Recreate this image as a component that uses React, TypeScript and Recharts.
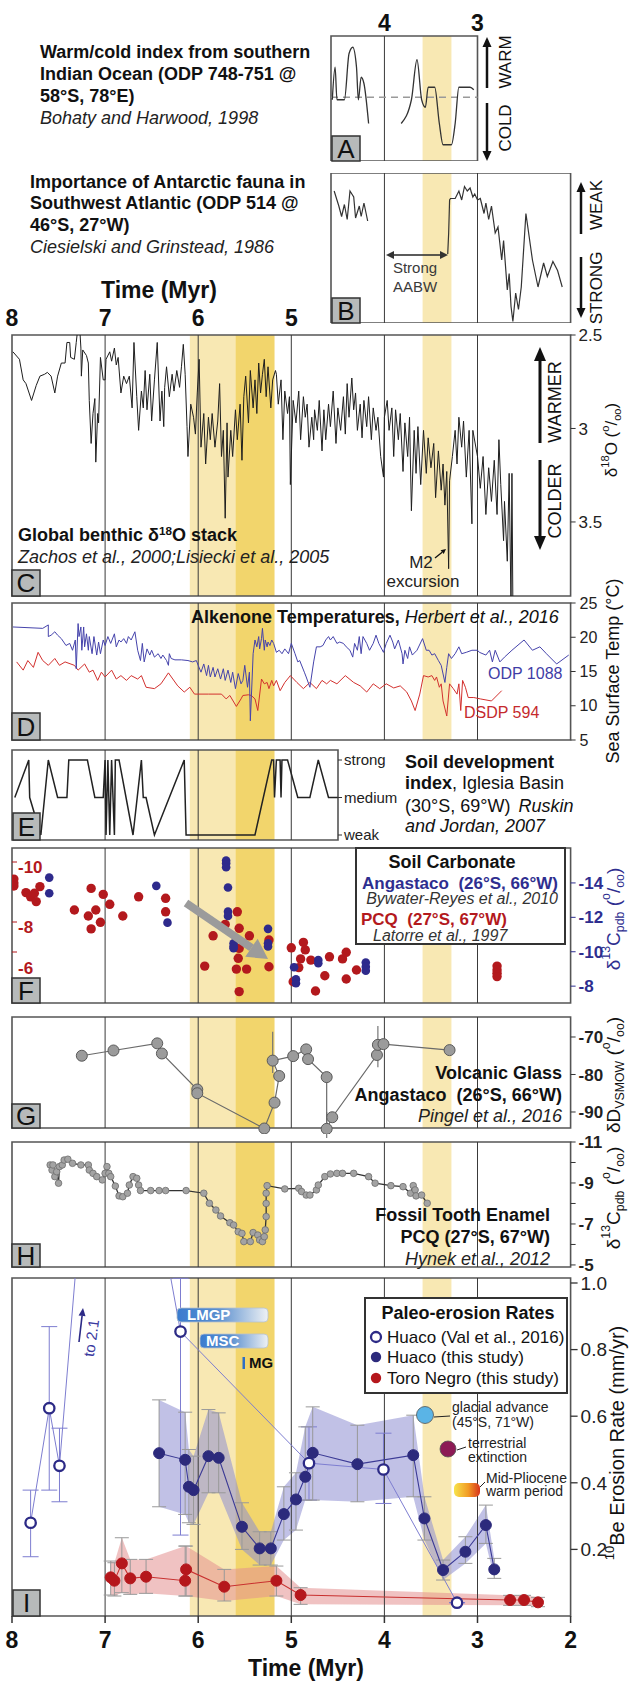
import React from "react";
import {
    ComposedChart,
    Line,
    Scatter,
    Area,
    XAxis,
    YAxis,
    ReferenceArea,
    ReferenceLine,
    ErrorBar,
} from "recharts";

const FONT = "'Liberation Sans', Arial, Helvetica, sans-serif";
const LIGHT = "#f8e8b3";
const DARK = "#f2d56c";
const GRID = "#3a3a3a";
const FRAME = "#555";

// shaded intervals (Myr) and grid times
const bandLight: [number, number][] = [[6.09, 5.6], [3.59, 3.28]];
const bandDark: [number, number][] = [[5.6, 5.18]];
const gridTimes = [7, 6, 5, 4, 3];
const timeTicks = [8, 7, 6, 5, 4, 3, 2];

type P = [number, number | null];
const pts = (a: P[]) => a.map(([t, v]) => ({ t, v }));

// A: warm/cold index, ODP 748-751
const warmIndex: P[] = [
    [4.56, 4.9], [4.53, 7.5], [4.51, 4.9], [4.43, 4.9], [4.38, 8.6], [4.34, 9.1], [4.3, 7.5], [4.28, 4.9],
    [4.25, 6.7], [4.22, 6.2], [4.17, 3.0], [4.0, null], [3.82, 3.0], [3.71, 4.9], [3.65, 8.1], [3.6, 4.9],
    [3.56, 4.3], [3.53, 5.9], [3.46, 5.9], [3.41, 3.0], [3.37, 1.3], [3.28, 1.3], [3.24, 3.0], [3.2, 5.9],
    [3.08, 5.9], [3.04, 5.7],
];

// B: Antarctic fauna, ODP 514
const faunaIndex: P[] = [
    [4.54, 8.8], [4.51, 8.2], [4.49, 7.8], [4.46, 7.1], [4.43, 7.9], [4.4, 6.9], [4.37, 8.8], [4.33, 8.4],
    [4.31, 7.0], [4.27, 7.8], [4.25, 7.1], [4.22, 8.0], [4.18, 6.8], [3.9, null], [3.32, 4.6], [3.31, 6.0],
    [3.3, 8.2], [3.29, 8.3], [3.24, 8.3], [3.2, 8.8], [3.17, 8.2], [3.14, 9.1], [3.11, 8.8], [3.08, 9.0],
    [3.05, 8.4], [3.03, 8.6], [3.0, 8.2], [2.97, 8.3], [2.93, 7.3], [2.91, 8.0], [2.88, 6.9], [2.85, 7.8],
    [2.81, 6.0], [2.78, 6.4], [2.74, 4.2], [2.72, 5.5], [2.68, 2.2], [2.66, 3.3], [2.64, 1.1], [2.62, 0.1],
    [2.59, 2.0], [2.56, 0.9], [2.53, 2.4], [2.48, 7.3], [2.41, 4.2], [2.35, 2.4], [2.29, 4.0], [2.25, 3.1],
    [2.19, 4.1], [2.14, 3.5], [2.09, 2.4],
];

// C: benthic d18O stack
const benthic: P[] = [
    [7.99, 2.59], [7.92, 2.63], [7.88, 2.74], [7.85, 2.76], [7.79, 2.85], [7.74, 2.77], [7.7, 2.72], [7.65, 2.71],
    [7.62, 2.7], [7.58, 2.72], [7.54, 2.81], [7.51, 2.72], [7.47, 2.65], [7.43, 2.65], [7.41, 2.54], [7.38, 2.54],
    [7.37, 2.62], [7.33, 2.63], [7.31, 2.54], [7.29, 2.45], [7.28, 2.4], [7.26, 2.57], [7.255, 2.72], [7.24, 2.58],
    [7.2, 2.61], [7.18, 2.65], [7.17, 2.85], [7.15, 3.08], [7.13, 2.92], [7.11, 2.84], [7.1, 3.18], [7.08, 2.92],
    [7.07, 2.97], [7.05, 2.62], [7.02, 2.74], [7.0, 2.74], [6.99, 2.63], [6.95, 2.59], [6.93, 2.64], [6.9, 2.57],
    [6.88, 2.66], [6.86, 2.62], [6.83, 2.81], [6.8, 2.72], [6.77, 2.76], [6.74, 2.72], [6.71, 2.89], [6.69, 2.54],
    [6.66, 2.83], [6.64, 3.01], [6.61, 2.8], [6.59, 2.89], [6.57, 2.69], [6.55, 2.9], [6.52, 2.71], [6.5, 2.96],
    [6.47, 2.74], [6.44, 2.54], [6.41, 2.96], [6.39, 2.8], [6.37, 2.99], [6.36, 2.78], [6.34, 2.67], [6.31, 2.83],
    [6.28, 2.71], [6.26, 2.8], [6.23, 2.69], [6.2, 2.78], [6.18, 2.67], [6.16, 2.55], [6.14, 2.71], [6.12, 2.99],
    [6.11, 3.15], [6.08, 2.87], [6.05, 2.94], [6.03, 3.03], [6.01, 2.81], [5.99, 2.63], [5.97, 3.1], [5.94, 2.92],
    [5.92, 3.19], [5.89, 2.94], [5.87, 3.06], [5.85, 2.92], [5.82, 3.1], [5.79, 2.96], [5.77, 2.76], [5.75, 3.15],
    [5.73, 3.01], [5.71, 3.48], [5.69, 2.97], [5.68, 3.26], [5.65, 3.01], [5.63, 3.15], [5.6, 2.9], [5.58, 3.06],
    [5.55, 2.87], [5.53, 3.17], [5.51, 2.83], [5.49, 2.72], [5.46, 2.97], [5.44, 2.69], [5.41, 2.89], [5.39, 2.74],
    [5.37, 2.92], [5.35, 2.65], [5.33, 2.81], [5.31, 2.71], [5.29, 2.63], [5.27, 2.83], [5.25, 2.67], [5.22, 2.89],
    [5.2, 2.74], [5.17, 2.69], [5.16, 2.71], [5.14, 2.87], [5.11, 2.74], [5.09, 3.06], [5.07, 2.8], [5.04, 2.92],
    [5.02, 2.83], [5.01, 3.3], [4.98, 2.85], [4.95, 2.97], [4.92, 2.8], [4.9, 3.06], [4.87, 2.83], [4.85, 2.94],
    [4.83, 2.87], [4.81, 3.1], [4.78, 2.94], [4.76, 3.06], [4.75, 2.9], [4.72, 3.01], [4.7, 2.85], [4.67, 3.12],
    [4.65, 2.9], [4.63, 3.06], [4.6, 2.87], [4.58, 2.99], [4.55, 2.8], [4.52, 3.08], [4.5, 2.89], [4.47, 3.01],
    [4.44, 2.83], [4.42, 3.03], [4.4, 2.76], [4.38, 2.94], [4.35, 2.73], [4.33, 2.9], [4.31, 2.81], [4.29, 3.01],
    [4.26, 2.87], [4.24, 3.05], [4.22, 2.85], [4.19, 2.99], [4.17, 2.83], [4.14, 3.06], [4.12, 2.89], [4.09, 3.01],
    [4.07, 2.94], [4.04, 3.15], [4.01, 3.26], [4.0, 2.94], [3.97, 2.85], [3.95, 3.01], [3.92, 2.89], [3.9, 3.15],
    [3.88, 2.9], [3.85, 3.06], [3.83, 2.92], [3.8, 3.23], [3.78, 2.97], [3.75, 3.15], [3.73, 2.94], [3.71, 3.44],
    [3.68, 3.01], [3.66, 3.24], [3.64, 2.99], [3.61, 3.3], [3.58, 3.01], [3.55, 3.24], [3.53, 3.05], [3.5, 3.21],
    [3.47, 3.08], [3.45, 3.37], [3.42, 3.12], [3.39, 3.33], [3.37, 3.19], [3.35, 3.41], [3.33, 3.23], [3.31, 3.75],
    [3.3, 3.28], [3.27, 3.15], [3.24, 3.01], [3.22, 3.19], [3.2, 2.94], [3.17, 3.1], [3.15, 2.96], [3.12, 3.26],
    [3.09, 3.01], [3.06, 3.51], [3.05, 3.01], [3.0, 3.15], [2.97, 3.32], [2.94, 3.15], [2.91, 3.46], [2.88, 3.21],
    [2.85, 3.39], [2.82, 3.17], [2.79, 3.46], [2.77, 3.06], [2.75, 3.3], [2.72, 3.6], [2.71, 3.39], [2.68, 3.71],
    [2.66, 3.24], [2.64, 3.95], [2.63, 3.24], [2.62, 3.95],
];

// D: alkenone SST
const odp1088: P[] = [
    [7.99, 21.5], [7.67, 21.3], [7.61, 21.8], [7.61, 20.1], [7.58, 20.3], [7.54, 20.8], [7.51, 20.3], [7.47, 19.8],
    [7.42, 18.8], [7.38, 19.1], [7.35, 18.1], [7.32, 19.6], [7.31, 15.4], [7.29, 22.0], [7.28, 20.1], [7.26, 21.5],
    [7.25, 18.1], [7.23, 21.5], [7.22, 18.6], [7.2, 20.5], [7.18, 18.1], [7.17, 20.1], [7.14, 17.6], [7.12, 20.1],
    [7.09, 17.4], [7.07, 19.3], [7.05, 17.6], [7.02, 19.6], [7.0, 18.8], [6.97, 20.1], [6.94, 19.1], [6.9, 20.5],
    [6.88, 18.6], [6.85, 19.6], [6.83, 19.3], [6.8, 19.8], [6.77, 19.1], [6.75, 20.1], [6.72, 19.6], [6.68, 20.8],
    [6.65, 18.1], [6.62, 16.6], [6.6, 19.1], [6.58, 16.4], [6.55, 18.3], [6.52, 17.4], [6.5, 18.1], [6.47, 17.1],
    [6.43, 17.6], [6.4, 16.9], [6.38, 17.4], [6.34, 16.6], [6.32, 15.9], [6.31, 17.6], [6.29, 16.9], [6.25, 16.7],
    [6.18, 16.7], [6.11, 16.6], [6.06, 16.4], [6.02, 16.6], [6.0, 15.9], [5.97, 14.9], [5.94, 16.1], [5.91, 14.4],
    [5.89, 15.9], [5.87, 14.2], [5.84, 15.6], [5.82, 14.2], [5.79, 15.4], [5.76, 13.9], [5.73, 15.4], [5.71, 13.7],
    [5.68, 15.2], [5.65, 13.4], [5.63, 14.9], [5.6, 12.5], [5.57, 14.7], [5.54, 13.2], [5.52, 13.7], [5.5, 15.9],
    [5.47, 12.7], [5.45, 14.9], [5.44, 7.8], [5.42, 14.2], [5.41, 17.6], [5.39, 19.6], [5.37, 18.6], [5.35, 20.1],
    [5.34, 18.3], [5.32, 19.8], [5.31, 21.3], [5.29, 18.1], [5.28, 19.6], [5.26, 18.6], [5.25, 19.3], [5.23, 18.8],
    [5.21, 19.6], [5.19, 19.1], [5.16, 17.8], [5.13, 18.1], [5.1, 17.6], [5.07, 18.3], [5.03, 17.6], [5.0, 19.1],
    [4.96, 17.6], [4.93, 16.4], [4.91, 16.6], [4.86, 14.9], [4.84, 14.2], [4.8, 12.7], [4.76, 16.4], [4.73, 18.6],
    [4.69, 18.6], [4.66, 18.8], [4.63, 19.6], [4.6, 20.1], [4.58, 19.6], [4.55, 20.1], [4.51, 19.1], [4.48, 19.3],
    [4.44, 19.1], [4.41, 18.6], [4.37, 18.1], [4.34, 17.1], [4.32, 19.1], [4.29, 18.1], [4.27, 20.1], [4.25, 17.6],
    [4.23, 20.1], [4.19, 19.1], [4.16, 18.1], [4.12, 19.1], [4.09, 20.3], [4.06, 19.1], [4.01, 17.8], [3.98, 19.1],
    [3.94, 20.3], [3.91, 19.3], [3.89, 18.3], [3.85, 19.6], [3.81, 17.6], [3.8, 16.1], [3.78, 18.1], [3.75, 16.9],
    [3.73, 18.6], [3.7, 17.4], [3.65, 18.1], [3.59, 19.8], [3.55, 18.1], [3.52, 18.1], [3.49, 17.4], [3.46, 17.6],
    [3.42, 16.6], [3.39, 15.9], [3.35, 13.4], [3.33, 15.6], [3.31, 17.6], [3.28, 16.9], [3.24, 17.6], [3.2, 18.6],
    [3.17, 17.6], [3.12, 17.8], [3.06, 18.1], [3.0, 18.1], [2.98, 17.8], [2.91, 17.4], [2.87, 18.1], [2.84, 16.4],
    [2.81, 18.1], [2.76, 16.4], [2.71, 17.1], [2.63, 18.1], [2.5, 19.6], [2.41, 18.1], [2.33, 18.6], [2.26, 17.6],
    [2.15, 16.1], [2.02, 17.4],
];
const dsdp594: P[] = [
    [7.95, 16.4], [7.88, 15.2], [7.83, 16.6], [7.77, 15.6], [7.72, 17.8], [7.67, 16.6], [7.61, 15.9], [7.54, 16.9],
    [7.49, 15.9], [7.43, 16.4], [7.33, 15.9], [7.29, 15.2], [7.22, 16.1], [7.17, 14.9], [7.13, 15.2], [7.08, 13.7],
    [7.04, 14.9], [7.0, 14.2], [6.93, 15.2], [6.88, 13.9], [6.83, 14.4], [6.77, 13.7], [6.72, 14.4], [6.65, 13.9],
    [6.61, 14.4], [6.56, 12.7], [6.47, 12.5], [6.4, 13.2], [6.32, 14.8], [6.22, 12.9], [6.15, 12.0], [6.09, 12.7],
    [6.04, 11.7], [5.89, 11.7], [5.75, 11.7], [5.7, 11.0], [5.66, 11.5], [5.59, 9.9], [5.54, 11.0], [5.52, 11.5],
    [5.46, 11.6], [5.43, 11.5], [5.39, 11.0], [5.36, 9.3], [5.32, 13.9], [5.29, 13.2], [5.26, 13.4], [5.24, 12.5],
    [5.21, 13.7], [5.19, 12.9], [5.16, 13.7], [5.12, 12.2], [5.07, 13.4], [5.01, 14.4], [4.94, 13.4], [4.87, 12.5],
    [4.8, 13.4], [4.73, 12.5], [4.67, 13.7], [4.62, 13.2], [4.58, 13.7], [4.51, 13.2], [4.42, 14.4], [4.33, 13.4],
    [4.26, 12.9], [4.19, 12.0], [4.12, 13.2], [4.05, 12.5], [3.98, 13.2], [3.9, 12.6], [3.83, 12.9], [3.76, 12.0],
    [3.71, 10.7], [3.67, 9.3], [3.62, 11.7], [3.58, 14.4], [3.53, 14.2], [3.49, 14.4], [3.46, 13.7], [3.44, 14.2],
    [3.41, 12.7], [3.39, 13.2], [3.37, 10.7], [3.33, 8.5], [3.3, 13.2], [3.26, 12.5], [3.22, 11.7], [3.2, 13.2],
    [3.18, 9.3], [3.16, 13.7], [3.13, 12.7], [3.1, 11.2], [3.04, 11.2], [2.97, 11.0], [2.85, 10.7], [2.74, 12.2],
];

// E: soil development index (0 weak, 1 medium, 2 strong)
const soilDev: P[] = [
    [7.97, 1], [7.82, 2], [7.81, 1], [7.69, 0], [7.61, 2], [7.51, 1], [7.41, 1], [7.39, 2], [7.19, 2], [7.11, 1],
    [7.02, 1], [7.0, 2], [6.99, 0], [6.97, 2], [6.95, 0], [6.93, 2], [6.9, 0], [6.89, 2], [6.85, 2], [6.7, 0],
    [6.61, 2], [6.59, 1], [6.56, 1], [6.47, 0], [6.15, 2], [6.13, 0], [5.39, 0], [5.21, 2], [5.19, 2], [5.18, 1],
    [5.16, 2], [5.12, 2], [5.11, 1], [5.1, 2], [5.04, 2], [4.93, 1], [4.8, 1], [4.71, 2], [4.6, 1], [4.5, 1],
];

// F: soil carbonate d13C
const pcqCarb: P[] = [
    [7.98, -9.43], [7.98, -9.3], [7.98, -9.2], [7.85, -8.98], [7.8, -8.84], [7.76, -8.96], [7.74, -8.68], [7.7, -9.18],
    [7.33, -8.4], [7.18, -8.2], [7.15, -9.12], [7.15, -7.77], [7.1, -8.4], [7.05, -7.99], [7.02, -8.92], [6.95, -8.59],
    [6.81, -8.2], [6.64, -8.84], [6.35, -8.79], [6.35, -8.34], [5.93, -6.53], [5.84, -7.54], [5.71, -7.92], [5.58, -8.34],
    [5.56, -7.79], [5.56, -7.12], [5.57, -6.79], [5.59, -6.43], [5.56, -5.68], [5.48, -6.43], [5.45, -7.54], [5.24, -7.4],
    [5.24, -6.51], [5.0, -7.14], [4.98, -6.01], [4.92, -6.48], [4.9, -6.77], [4.87, -7.32], [4.85, -7.07], [4.79, -6.73],
    [4.74, -5.7], [4.64, -6.21], [4.59, -6.84], [4.45, -6.77], [4.41, -6.99], [4.41, -6.1], [4.3, -6.4], [2.79, -6.53],
    [2.79, -6.4], [2.79, -6.29], [2.79, -6.18],
];
const angastacoCarb: P[] = [
    [7.6, -14.31], [7.6, -13.4], [6.45, -13.83], [6.33, -11.69], [5.7, -15.3], [5.7, -15.15], [5.7, -14.91],
    [5.68, -13.73], [5.68, -12.33], [5.68, -12.08], [5.62, -10.49], [5.62, -10.3], [5.62, -10.2], [5.25, -11.33],
    [5.25, -10.49], [5.25, -10.3], [4.97, -9.1], [4.95, -8.4], [4.95, -8.17], [4.71, -9.52], [4.71, -9.33],
    [4.2, -9.37], [4.2, -9.13], [4.2, -8.9],
];

// G: volcanic glass dD  [t, v, errLow, errHigh]
const glassRows = [
    [7.25, -75.0, 0, 0], [6.91, -73.6, 0, 0], [6.44, -71.7, 0, 0], [6.39, -74.4, 0, 0], [6.01, -84.0, 0, 0],
    [6.01, -85.0, 0, 0], [5.29, -94.4, 0, 0], [5.18, -87.5, 0, 0], [5.13, -80.4, 0, 0], [5.2, -76.3, 3.3, 7.7],
    [4.98, -75.1, 0, 0], [4.84, -73.3, 0, 0], [4.82, -75.9, 0, 0], [4.62, -80.7, 0, 0], [4.62, -94.5, 5, 4.5],
    [4.56, -91.4, 0, 0], [4.08, -74.8, 0, 0], [4.07, -72.1, 6, 5], [4.01, -71.9, 0, 0], [3.3, -73.5, 0, 0],
];

// H: tooth enamel d13C
const enamel: P[] = [
    [7.59, -9.88], [7.57, -9.63], [7.56, -9.88], [7.54, -9.31], [7.52, -9.55], [7.5, -8.99], [7.49, -9.8], [7.46, -9.88],
    [7.44, -10.12], [7.4, -10.16], [7.35, -9.96], [7.26, -9.88], [7.18, -9.88], [7.17, -9.63], [7.13, -9.47], [7.09, -9.31],
    [7.03, -9.15], [7.0, -9.47], [6.98, -9.8], [6.96, -9.47], [6.94, -9.31], [6.89, -8.85], [6.85, -8.37], [6.81, -8.33],
    [6.76, -8.5], [6.74, -8.9], [6.7, -9.31], [6.66, -9.23], [6.64, -8.9], [6.62, -8.63], [6.51, -8.63], [6.42, -8.63],
    [6.35, -8.63], [6.13, -8.63], [5.94, -8.5], [5.88, -8.01], [5.81, -7.68], [5.76, -7.39], [5.66, -7.06], [5.62, -6.95],
    [5.57, -6.62], [5.53, -6.54], [5.51, -6.14], [5.44, -6.14], [5.41, -6.58], [5.36, -6.46], [5.34, -6.22], [5.31, -6.14],
    [5.29, -6.38], [5.28, -6.71], [5.27, -7.36], [5.27, -8.0], [5.27, -8.5], [5.26, -8.87], [5.07, -8.71], [4.92, -8.74],
    [4.89, -8.58], [4.84, -8.41], [4.8, -8.41], [4.73, -8.66], [4.71, -8.9], [4.64, -9.31], [4.58, -9.44], [4.51, -9.47],
    [4.45, -9.47], [4.33, -9.47], [4.17, -9.31], [4.1, -8.99], [3.93, -8.87], [3.8, -8.82], [3.72, -8.5], [3.69, -8.87],
    [3.67, -8.66], [3.66, -8.37], [3.6, -8.41], [3.54, -8.01],
];

// I: 10Be erosion rates
const valRows = [
    [7.8, 0.28, 0.102, 0.098], [7.6, 0.624, 0.246, 0.245], [7.49, 0.451, 0.108, 0.113], [7.0, 2.1, 0, 0],
    [6.19, 0.854, 0.611, 0.16], [4.81, 0.459, 0.111, 0.109], [4.01, 0.44, 0.102, 0.109], [3.22, 0.04, 0, 0],
];
const huacoRows = [
    [6.42, 0.489, 0.328, 0.649], [6.14, 0.469, 0.305, 0.612], [6.1, 0.388, 0.28, 0.5], [6.05, 0.378, 0.275, 0.48],
    [5.89, 0.48, 0.37, 0.62], [5.78, 0.475, 0.37, 0.61], [5.53, 0.268, 0.2, 0.34], [5.34, 0.203, 0.153, 0.253],
    [5.22, 0.203, 0.153, 0.253], [5.08, 0.306, 0.228, 0.388], [4.95, 0.35, 0.258, 0.43], [4.85, 0.418, 0.348, 0.568],
    [4.77, 0.49, 0.348, 0.628], [4.29, 0.456, 0.343, 0.573], [3.69, 0.483, 0.358, 0.603], [3.57, 0.293, 0.228, 0.358],
    [3.37, 0.138, 0.108, 0.168], [3.13, 0.193, 0.158, 0.238], [2.91, 0.273, 0.218, 0.333], [2.82, 0.14, 0.113, 0.173],
];
const toroRows = [
    [6.94, 0.116, 0.063, 0.165], [6.9, 0.106, 0.06, 0.16], [6.82, 0.158, 0.07, 0.235], [6.73, 0.113, 0.065, 0.17],
    [6.56, 0.118, 0.068, 0.17], [6.14, 0.106, 0.06, 0.21], [6.13, 0.14, 0.06, 0.21], [5.72, 0.088, 0.045, 0.14],
    [5.16, 0.106, 0.06, 0.15], [4.9, 0.063, 0.035, 0.085], [2.65, 0.048, 0.032, 0.062], [2.5, 0.048, 0.032, 0.062],
    [2.35, 0.041, 0.028, 0.056],
];
// magnetic polarity chrons (normal, black)
const chrons: [number, number][] = [
    [7.99, 7.67], [7.62, 7.51], [7.47, 7.44], [7.28, 7.23], [7.18, 7.12], [6.7, 6.46], [6.23, 6.01], [5.23, 5.02],
    [4.9, 4.8], [4.63, 4.51], [4.32, 4.2], [3.6, 3.32], [3.19, 3.11], [3.05, 2.62], [2.15, 2.14],
];

const glass = glassRows.map(([t, v, a, b]) => ({ t, v, err: [a, b] }));
const val = valRows.map(([t, v, a, b]) => ({ t, v, err: [a, b] }));
const huaco = huacoRows.map(([t, v, lo, hi]) => ({ t, v, range: [lo, hi], err: [v - lo, hi - v] }));
const toro = toroRows.map(([t, v, lo, hi]) => ({ t, v, range: [lo, hi], err: [v - lo, hi - v] }));

const RW = 62.4; // right axis width, frame right edge at 570.6
const PAD = 10; // room above/below a frame for edge tick labels

function decor(lo: number, hi: number) {
    const inR = (a: number) => a >= lo - 1e-6 && a <= hi + 1e-6;
    const out: any[] = [];
    bandLight.forEach(([a, b], i) => {
        if (inR(a) && inR(b)) out.push(<ReferenceArea key={"l" + i} x1={a} x2={b} fill={LIGHT} fillOpacity={1} stroke="none" />);
    });
    bandDark.forEach(([a, b], i) => {
        if (inR(a) && inR(b)) out.push(<ReferenceArea key={"d" + i} x1={a} x2={b} fill={DARK} fillOpacity={1} stroke="none" />);
    });
    gridTimes.forEach((g) => {
        if (g > lo + 0.01 && g < hi - 0.01) out.push(<ReferenceLine key={"g" + g} x={g} stroke={GRID} strokeWidth={1} />);
    });
    out.push(<ReferenceArea key="frame" x1={lo} x2={hi} fill="none" stroke={FRAME} strokeWidth={1.6} />);
    return out;
}

const tk = (size: number, bold = false, fill = "#222") => ({ fontSize: size, fontWeight: bold ? 700 : 400, fill, fontFamily: FONT });
const hiddenX = (lo: number, hi: number) => (
    <XAxis type="number" dataKey="t" domain={[lo, hi]} reversed allowDataOverflow hide />
);

const Box = ({ top, children }: any) => <div style={{ position: "absolute", left: 0, top }}>{children}</div>;

// left (red) axis of panel F: labels nudged like the original
const PcqTick = (p: any) => {
    const v = p.payload.value;
    if (v === -7) return <g />;
    const dy = v === -6 ? -14 : 5;
    return (
        <text x={p.x} y={p.y + dy} dy="0.355em" textAnchor="start" fontSize={17} fontWeight={700} fill="#b3191d" fontFamily={FONT}>
            {v}
        </text>
    );
};

const Sup = ({ children }: any) => <tspan baselineShift="super" fontSize="65%">{children}</tspan>;
const Sub = ({ children }: any) => <tspan baselineShift="sub" fontSize="65%">{children}</tspan>;
const PerMil = () => (<>(<Sup>o</Sup>/<Sub>oo</Sub>)</>);

const T = ({ x, y, s = 18, b = false, i = false, a = "start", fill = "#111", children }: any) => (
    <text x={x} y={y} fontSize={s} fontWeight={b ? 700 : 400} fontStyle={i ? "italic" : "normal"} textAnchor={a} fill={fill} fontFamily={FONT}>
        {children}
    </text>
);
const VT = ({ x, y, s = 18, fill = "#111", rot = -90, children }: any) => (
    <text transform={`translate(${x} ${y}) rotate(${rot})`} textAnchor="middle" dominantBaseline="central" fontSize={s} fill={fill} fontFamily={FONT}>
        {children}
    </text>
);
const Arrow = ({ x1, y1, x2, y2, w = 2, hl = 9, hw = 4.5, color = "#111" }: any) => {
    const dx = x2 - x1, dy = y2 - y1, L = Math.hypot(dx, dy), ux = dx / L, uy = dy / L;
    const bx = x2 - ux * hl, by = y2 - uy * hl, nx = -uy, ny = ux;
    return (
        <g>
            <line x1={x1} y1={y1} x2={bx} y2={by} stroke={color} strokeWidth={w} />
            <polygon points={`${x2},${y2} ${bx + nx * hw},${by + ny * hw} ${bx - nx * hw},${by - ny * hw}`} fill={color} />
        </g>
    );
};
const LetterBox = ({ x, y, w, h, l }: any) => (
    <g>
        <rect x={x} y={y} width={w} height={h} fill="#b7baba" stroke="#333" strokeWidth={1.5} />
        <text x={x + w / 2} y={y + h / 2 + 9} textAnchor="middle" fontSize={26} fill="#111" fontFamily={FONT}>{l}</text>
    </g>
);

const valDot = (p: any) => {
    const { cx, cy, payload, index } = p;
    if (payload.v > 1.02) return <g key={"vd" + index} />;
    return <circle key={"vd" + index} cx={cx} cy={cy} r={5.2} fill="#fff" stroke="#2c2a86" strokeWidth={2.3} />;
};

const App = () => {
    return (
        <div style={{ position: "absolute", left: 0, top: 0, width: 633, height: 1685, background: "#fff", overflow: "hidden" }}>
            {/* A */}
            <Box top={0}>
                <ComposedChart width={633} height={161} margin={{ top: 0, right: 155.5, bottom: 0, left: 331 }}>
                    <XAxis type="number" dataKey="t" domain={[3, 4.574]} reversed allowDataOverflow orientation="top" height={36}
                        ticks={[4, 3]} interval={0} tickLine={false} axisLine={false} tickSize={0} tickMargin={5} tick={tk(23, true, "#111")} />
                    <YAxis hide domain={[0, 10]} allowDataOverflow />
                    {decor(3, 4.574)}
                    <ReferenceLine y={5.1} stroke="#9a9a9a" strokeDasharray="7 5" strokeWidth={1.5} />
                    <Line data={pts(warmIndex)} dataKey="v" type="monotone" stroke="#333" strokeWidth={1.3} dot={false} activeDot={false} isAnimationActive={false} />
                </ComposedChart>
            </Box>
            {/* B */}
            <Box top={173}>
                <ComposedChart width={633} height={150} margin={{ top: 0, right: RW, bottom: 0, left: 331 }}>
                    {hiddenX(2, 4.574)}
                    <YAxis hide domain={[0, 10]} allowDataOverflow />
                    {decor(2, 4.574)}
                    <Line data={pts(faunaIndex)} dataKey="v" type="linear" stroke="#333" strokeWidth={1.2} dot={false} activeDot={false} isAnimationActive={false} />
                </ComposedChart>
            </Box>
            {/* C */}
            <Box top={305}>
                <ComposedChart width={633} height={291 + PAD} margin={{ top: 0, right: 0, bottom: PAD, left: 12 }}>
                    <XAxis type="number" dataKey="t" domain={[2, 8]} reversed allowDataOverflow orientation="top" height={30}
                        ticks={[8, 7, 6, 5]} interval={0} tickLine={false} axisLine={false} tickSize={0} tickMargin={9} tick={tk(23, true, "#111")} />
                    <YAxis orientation="right" width={RW} domain={[2.5, 3.896]} reversed allowDataOverflow ticks={[2.5, 3, 3.5]} interval={0}
                        axisLine={false} tickLine={{ stroke: "#333" }} tickSize={5} tickMargin={3} tick={tk(17)} />
                    {decor(2, 8)}
                    <Line data={pts(benthic)} dataKey="v" type="linear" stroke="#1e1e1e" strokeWidth={1} dot={false} activeDot={false} isAnimationActive={false} />
                </ComposedChart>
            </Box>
            {/* D */}
            <Box top={603 - PAD}>
                <ComposedChart width={633} height={137 + 2 * PAD} margin={{ top: PAD, right: 0, bottom: PAD, left: 12 }}>
                    {hiddenX(2, 8)}
                    <YAxis orientation="right" width={RW} domain={[5, 25]} allowDataOverflow ticks={[5, 10, 15, 20, 25]} interval={0}
                        axisLine={false} tickLine={{ stroke: "#333" }} tickSize={5} tickMargin={4} tick={tk(16)} />
                    {decor(2, 8)}
                    <Line data={pts(dsdp594)} dataKey="v" type="linear" stroke="#d2302e" strokeWidth={1} dot={false} activeDot={false} isAnimationActive={false} />
                    <Line data={pts(odp1088)} dataKey="v" type="linear" stroke="#4543ab" strokeWidth={1} dot={false} activeDot={false} isAnimationActive={false} />
                </ComposedChart>
            </Box>
            {/* E */}
            <Box top={750 - PAD}>
                <ComposedChart width={633} height={90 + 2 * PAD} margin={{ top: PAD, right: 225, bottom: PAD, left: 12 }}>
                    {hiddenX(4.498, 8)}
                    <YAxis orientation="right" width={70} domain={[-0.133, 2.267]} allowDataOverflow ticks={[0, 1, 2]} interval={0}
                        tickFormatter={(v: number) => ["weak", "medium", "strong"][v]}
                        axisLine={false} tickLine={{ stroke: "#333" }} tickSize={4} tickMargin={2} tick={tk(15)} />
                    {decor(4.498, 8)}
                    <Line data={pts(soilDev)} dataKey="v" type="linear" stroke="#222" strokeWidth={1.5} dot={false} activeDot={false} isAnimationActive={false} />
                </ComposedChart>
            </Box>
            {/* F */}
            <Box top={848 - PAD}>
                <ComposedChart width={633} height={155 + 2 * PAD} margin={{ top: PAD, right: 0, bottom: PAD, left: 12 }}>
                    {hiddenX(2, 8)}
                    <YAxis orientation="right" dataKey="v" width={RW} domain={[-16.03, -7.02]} reversed allowDataOverflow ticks={[-14, -12, -10, -8]} interval={0}
                        axisLine={false} tickLine={{ stroke: "#2e2e8f" }} tickSize={5} tickMargin={3} tick={tk(17, true, "#2e2e8f")} />
                    <YAxis yAxisId="L" orientation="left" mirror dataKey="v" domain={[-10.467, -5.3]} reversed allowDataOverflow ticks={[-10, -8, -7, -6]} interval={0}
                        axisLine={false} tickLine={{ stroke: "#b3191d" }} tickSize={5} tickMargin={1} tick={PcqTick} />
                    {decor(2, 8)}
                    <Scatter data={pts(pcqCarb)} yAxisId="L" isAnimationActive={false}
                        shape={(p: any) => <circle cx={p.cx} cy={p.cy} r={4.7} fill="#b3191d" />} />
                    <Scatter data={pts(angastacoCarb)} isAnimationActive={false}
                        shape={(p: any) => <circle cx={p.cx} cy={p.cy} r={4.3} fill="#2e2a8c" />} />
                </ComposedChart>
            </Box>
            {/* G */}
            <Box top={1017 - PAD}>
                <ComposedChart width={633} height={111 + 2 * PAD} margin={{ top: PAD, right: 0, bottom: PAD, left: 12 }}>
                    {hiddenX(2, 8)}
                    <YAxis orientation="right" width={RW} domain={[-94.27, -64.67]} allowDataOverflow ticks={[-90, -80, -70]} interval={0}
                        axisLine={false} tickLine={{ stroke: "#333" }} tickSize={5} tickMargin={3} tick={tk(17, true)} />
                    {decor(2, 8)}
                    <Line data={glass} dataKey="v" type="linear" stroke="#6a6a6a" strokeWidth={1.2} activeDot={false} isAnimationActive={false}
                        dot={{ r: 5.5, fill: "#9b9b9b", stroke: "#5a5a5a", strokeWidth: 1, clipDot: false }}>
                        <ErrorBar dataKey="err" direction="y" width={0} stroke="#777" strokeWidth={1.2} />
                    </Line>
                </ComposedChart>
            </Box>
            {/* H */}
            <Box top={1142 - PAD}>
                <ComposedChart width={633} height={125 + 2 * PAD} margin={{ top: PAD, right: 0, bottom: PAD, left: 12 }}>
                    {hiddenX(2, 8)}
                    <YAxis orientation="right" width={RW} domain={[-11, -4.9]} reversed allowDataOverflow ticks={[-11, -10, -9, -8, -7, -6, -5]} interval={0}
                        tickFormatter={(v: number) => (v % 2 === 0 ? "" : String(v))}
                        axisLine={false} tickLine={{ stroke: "#333" }} tickSize={5} tickMargin={3} tick={tk(17, true)} />
                    {decor(2, 8)}
                    <Line data={pts(enamel)} dataKey="v" type="linear" stroke="#333" strokeWidth={1.3} activeDot={false} isAnimationActive={false}
                        dot={{ r: 3.3, fill: "#a3a3a3", stroke: "#6d6d6d", strokeWidth: 0.8, clipDot: false }} />
                </ComposedChart>
            </Box>
            {/* I */}
            <Box top={1278 - PAD}>
                <ComposedChart width={633} height={388 + PAD} margin={{ top: PAD, right: 0, bottom: 0, left: 12 }}>
                    <XAxis type="number" dataKey="t" domain={[2, 8]} reversed allowDataOverflow ticks={timeTicks} interval={0} height={50}
                        axisLine={false} tickLine={{ stroke: "#333", strokeWidth: 1.5 }} tickSize={7} tickMargin={9} tick={tk(23, true, "#111")} />
                    <YAxis orientation="right" width={RW} domain={[0, 1.015]} allowDataOverflow ticks={[0.2, 0.4, 0.6, 0.8, 1.0]} interval={0}
                        tickFormatter={(v: number) => v.toFixed(1)}
                        axisLine={false} tickLine={{ stroke: "#333", strokeWidth: 1.3 }} tickSize={7} tickMargin={3} tick={tk(19)} />
                    {decor(2, 8)}
                    <Area data={huaco} dataKey="range" type="linear" stroke="none" fill="#8e8ed2" fillOpacity={0.55} dot={false} activeDot={false} isAnimationActive={false} />
                    <Area data={toro} dataKey="range" type="linear" stroke="none" fill="#e38f90" fillOpacity={0.55} dot={false} activeDot={false} isAnimationActive={false} />
                    <Line data={val} dataKey="v" type="linear" stroke="#7d7dd0" strokeWidth={1} dot={valDot} activeDot={false} isAnimationActive={false}>
                        <ErrorBar dataKey="err" direction="y" width={8} stroke="#7d7dd0" strokeWidth={1} />
                    </Line>
                    <Line data={huaco} dataKey="v" type="linear" stroke="#3b3a95" strokeWidth={1.1} activeDot={false} isAnimationActive={false}
                        dot={{ r: 5.5, fill: "#2c2a7c", stroke: "#2c2a7c", strokeWidth: 1 }}>
                        <ErrorBar dataKey="err" direction="y" width={7} stroke="#999" strokeWidth={1} />
                    </Line>
                    <Line data={toro} dataKey="v" type="linear" stroke="#c8302f" strokeWidth={1.1} activeDot={false} isAnimationActive={false}
                        dot={{ r: 5.5, fill: "#b5171c", stroke: "#b5171c", strokeWidth: 1 }}>
                        <ErrorBar dataKey="err" direction="y" width={7} stroke="#999" strokeWidth={1} />
                    </Line>
                </ComposedChart>
            </Box>
            {/* polarity strip */}
            <Box top={1278}>
                <ComposedChart width={633} height={17} margin={{ top: 0, right: RW, bottom: 0, left: 12 }}>
                    {hiddenX(2, 8)}
                    <YAxis hide domain={[0, 1]} />
                    <ReferenceArea x1={2} x2={8} fill="#fff" fillOpacity={1} stroke="#999" strokeWidth={1} />
                    {chrons.map(([a, b], i) => (
                        <ReferenceArea key={"c" + i} x1={a} x2={b} fill="#151515" fillOpacity={1} stroke="none" />
                    ))}
                </ComposedChart>
            </Box>

            {/* annotations */}
            <svg width={633} height={1685} style={{ position: "absolute", left: 0, top: 0, pointerEvents: "none" }}>
                <defs>
                    <linearGradient id="pillBlue" x1="0" x2="1" y1="0" y2="0">
                        <stop offset="0" stopColor="#3a7ccf" />
                        <stop offset="0.45" stopColor="#5a8fcf" />
                        <stop offset="1" stopColor="#eef1f4" />
                    </linearGradient>
                    <linearGradient id="pillWarm" x1="0" x2="1" y1="0" y2="0">
                        <stop offset="0" stopColor="#f7e34b" />
                        <stop offset="0.55" stopColor="#f29b25" />
                        <stop offset="1" stopColor="#d7341c" />
                    </linearGradient>
                </defs>

                {/* A / B captions */}
                <T x={40} y={58} b>Warm/cold index from southern</T>
                <T x={40} y={80} b>Indian Ocean (ODP 748-751 @</T>
                <T x={40} y={102} b>58°S, 78°E)</T>
                <T x={40} y={124} i fill="#222">Bohaty and Harwood, 1998</T>
                <T x={30} y={188} b>Importance of Antarctic fauna in</T>
                <T x={30} y={209} b>Southwest Atlantic (ODP 514 @</T>
                <T x={30} y={231} b>46°S, 27°W)</T>
                <T x={30} y={253} i fill="#222">Ciesielski and Grinstead, 1986</T>
                <T x={159} y={298} s={23} b a="middle">Time (Myr)</T>

                <Arrow x1={487} y1={88} x2={487} y2={37} w={2.5} hl={10} hw={4.5} />
                <Arrow x1={487} y1={103} x2={487} y2={161} w={2.5} hl={10} hw={4.5} />
                <VT x={505} y={62} s={17}>WARM</VT>
                <VT x={505} y={128} s={17}>COLD</VT>
                <Arrow x1={581} y1={234} x2={581} y2={182} w={2.5} hl={10} hw={4.5} />
                <Arrow x1={581} y1={257} x2={581} y2={318} w={2.5} hl={10} hw={4.5} />
                <VT x={596} y={205} s={17}>WEAK</VT>
                <VT x={596} y={288} s={17}>STRONG</VT>
                <Arrow x1={417} y1={255} x2={386} y2={255} w={1.6} hl={8} hw={4} color="#333" />
                <Arrow x1={417} y1={255} x2={448} y2={255} w={1.6} hl={8} hw={4} color="#333" />
                <T x={415} y={273} s={15} a="middle" fill="#3a3a3a">Strong</T>
                <T x={415} y={292} s={15} a="middle" fill="#3a3a3a">AABW</T>
                <LetterBox x={332} y={136} w={28} h={25} l="A" />
                <LetterBox x={332} y={298} w={28} h={25} l="B" />

                {/* C */}
                <Arrow x1={540} y1={443} x2={540} y2={347} w={3} hl={14} hw={6} />
                <Arrow x1={540} y1={460} x2={540} y2={550} w={3} hl={14} hw={6} />
                <VT x={555} y={402} s={18}>WARMER</VT>
                <VT x={555} y={501} s={18}>COLDER</VT>
                <VT x={611} y={440} s={17}>δ<Sup>18</Sup>O <PerMil /></VT>
                <T x={18} y={541} b>Global benthic δ<Sup>18</Sup>O stack</T>
                <T x={18} y={563} i fill="#222">Zachos et al., 2000;Lisiecki et al., 2005</T>
                <T x={421} y={568} s={17} a="middle" fill="#222">M2</T>
                <T x={423} y={587} s={17} a="middle" fill="#222">excursion</T>
                <Arrow x1={435} y1={558} x2={446} y2={549} w={1.3} hl={5} hw={2.5} />
                <LetterBox x={12} y={570} w={28} h={26} l="C" />

                {/* D */}
                <T x={191} y={623} b>Alkenone Temperatures,<tspan fontWeight={400} fontStyle="italic"> Herbert et al., 2016</tspan></T>
                <T x={488} y={679} s={16} fill="#3f3da6">ODP 1088</T>
                <T x={464} y={718} s={16} fill="#c52a2d">DSDP 594</T>
                <VT x={613} y={671} s={18}>Sea Surface Temp (°C)</VT>
                <LetterBox x={12} y={713} w={28} h={27} l="D" />

                {/* E */}
                <T x={405} y={768} b>Soil development</T>
                <T x={405} y={789}><tspan fontWeight={700}>index</tspan>, Iglesia Basin</T>
                <T x={405} y={812}>(30°S, 69°W)<tspan dx={8} fontStyle="italic">Ruskin</tspan></T>
                <T x={405} y={832} i>and Jordan, 2007</T>
                <LetterBox x={13} y={813} w={27} h={27} l="E" />

                {/* F */}
                <Arrow x1={186} y1={903} x2={268} y2={959} w={8} hl={20} hw={11} color="#9b9b9b" />
                <rect x={356} y={848} width={209} height={96} fill="#fff" stroke="#333" strokeWidth={2} />
                <T x={452} y={868} b a="middle">Soil Carbonate</T>
                <T x={362} y={889} s={17} b fill="#2e2e8f">Angastaco{"\u00a0"} (26°S, 66°W)</T>
                <T x={558} y={904} s={16} i a="end" fill="#333">Bywater-Reyes et al., 2010</T>
                <T x={361} y={925} s={17} b fill="#b3191d">PCQ{"\u00a0"} (27°S, 67°W)</T>
                <T x={373} y={941} s={16} i fill="#333">Latorre et al., 1997</T>
                <VT x={613} y={919} s={19} fill="#2e2e8f">δ<Sup>13</Sup>C<Sub>pdb</Sub> <PerMil /></VT>
                <LetterBox x={12} y={978} w={28} h={25} l="F" />

                {/* G */}
                <T x={562} y={1079} b a="end">Volcanic Glass</T>
                <T x={562} y={1101} b a="end">Angastaco{"\u00a0"} (26°S, 66°W)</T>
                <T x={562} y={1122} i a="end" fill="#222">Pingel et al., 2016</T>
                <VT x={613} y={1075} s={19}>δD<Sub>VSMOW</Sub> <PerMil /></VT>
                <LetterBox x={12} y={1104} w={28} h={24} l="G" />

                {/* H */}
                <T x={550} y={1221} b a="end">Fossil Tooth Enamel</T>
                <T x={550} y={1243} b a="end">PCQ (27°S, 67°W)</T>
                <T x={550} y={1265} i a="end" fill="#222">Hynek et al., 2012</T>
                <VT x={613} y={1198} s={19}>δ<Sup>13</Sup>C<Sub>pdb</Sub> <PerMil /></VT>
                <LetterBox x={12} y={1244} w={28} h={23} l="H" />

                {/* I */}
                <rect x={177} y={1308} width={91} height={14} rx={4} fill="url(#pillBlue)" stroke="#b8c2cc" strokeWidth={0.8} />
                <T x={187} y={1320} s={15} b fill="#fff">LMGP</T>
                <rect x={200} y={1334} width={68} height={14} rx={4} fill="url(#pillBlue)" stroke="#b8c2cc" strokeWidth={0.8} />
                <T x={206} y={1346} s={15} b fill="#fff">MSC</T>
                <rect x={242.5} y={1357} width={2.5} height={12} fill="#2f6fc4" />
                <T x={249} y={1368} s={15} b>MG</T>
                <Arrow x1={79} y1={1342} x2={83} y2={1308} w={1.6} hl={8} hw={3.5} color="#2c2a86" />
                <VT x={91} y={1338} s={15} fill="#3b39a0" rot={-82}>to 2.1</VT>

                <rect x={365} y={1298} width={202} height={95} fill="#fff" stroke="#333" strokeWidth={2} />
                <T x={468} y={1319} b a="middle">Paleo-erosion Rates</T>
                <circle cx={376} cy={1337} r={5} fill="#fff" stroke="#2c2a86" strokeWidth={2.3} />
                <T x={387} y={1343} s={17}>Huaco (Val et al., 2016)</T>
                <circle cx={376} cy={1357} r={5.2} fill="#2c2a7c" />
                <T x={387} y={1363} s={17}>Huaco (this study)</T>
                <circle cx={376} cy={1378} r={5.2} fill="#b5171c" />
                <T x={387} y={1384} s={17}>Toro Negro (this study)</T>

                <circle cx={425} cy={1415} r={8.5} fill="#5ab4e6" stroke="#555" strokeWidth={0.8} />
                <line x1={434} y1={1417} x2={450} y2={1416} stroke="#222" strokeWidth={1} />
                <T x={452} y={1412} s={14} fill="#222">glacial advance</T>
                <T x={452} y={1427} s={14} fill="#222">(45°S, 71°W)</T>
                <circle cx={448} cy={1449} r={8} fill="#8c1a55" stroke="#555" strokeWidth={0.8} />
                <line x1={457} y1={1450} x2={466} y2={1447} stroke="#222" strokeWidth={1} />
                <T x={468} y={1448} s={14} fill="#222">terrestrial</T>
                <T x={468} y={1462} s={14} fill="#222">extinction</T>
                <rect x={454} y={1483} width={26} height={14} rx={5} fill="url(#pillWarm)" />
                <line x1={480} y1={1487} x2={485} y2={1482} stroke="#222" strokeWidth={1} />
                <T x={486} y={1483} s={14} fill="#222">Mid-Pliocene</T>
                <T x={486} y={1496} s={14} fill="#222">warm period</T>

                <VT x={617} y={1443} s={20}><Sup>10</Sup>Be Erosion Rate (mm/yr)</VT>
                <LetterBox x={13} y={1590} w={27} h={26} l="I" />
                <T x={306} y={1676} s={23} b a="middle">Time (Myr)</T>
            </svg>
        </div>
    );
};

export default App;
